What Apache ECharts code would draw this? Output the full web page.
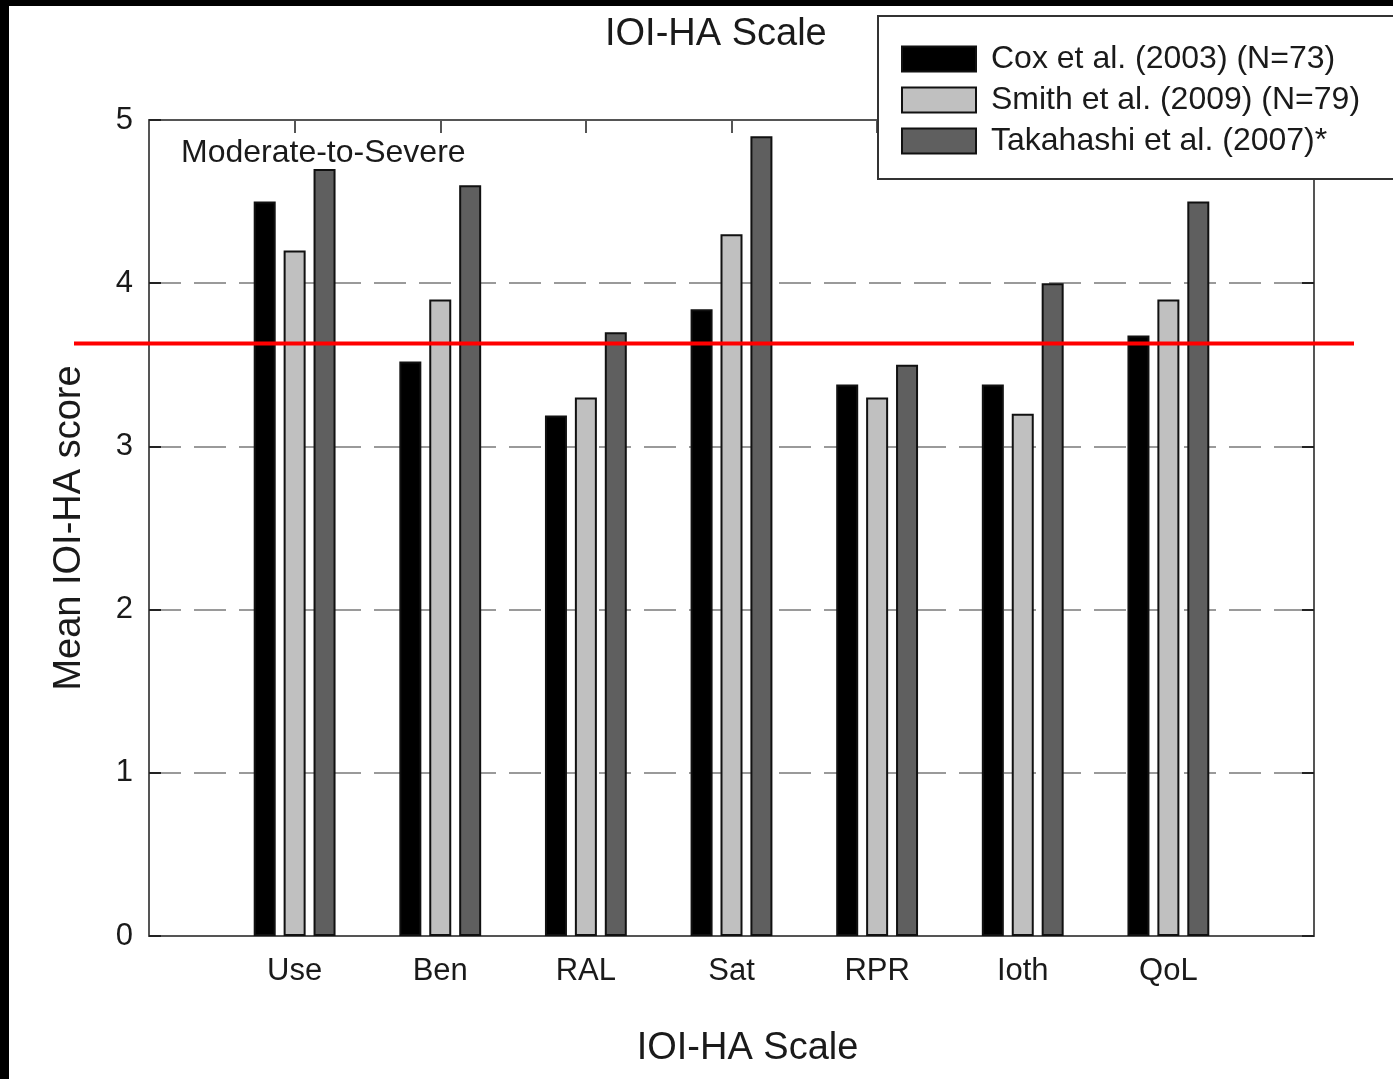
<!DOCTYPE html>
<html>
<head>
<meta charset="utf-8">
<script src="https://cdn.jsdelivr.net/npm/echarts@6/dist/echarts.min.js"></script>
<style>html,body{margin:0;padding:0;background:#fff;}#c{width:1393px;height:1079px;}</style>
</head>
<body>
<div id="c"></div>
<script>
var categories = ['Use', 'Ben', 'RAL', 'Sat', 'RPR', 'Ioth', 'QoL'];
var categoryPositions = [1, 2, 3, 4, 5, 6, 7];
var seriesNames = ['Cox et al. (2003) (N=73)', 'Smith et al. (2009) (N=79)', 'Takahashi et al. (2007)*'];
var coxValues = [4.50, 3.52, 3.19, 3.84, 3.38, 3.38, 3.68];
var smithValues = [4.20, 3.90, 3.30, 4.30, 3.30, 3.20, 3.90];
var takahashiValues = [4.70, 4.60, 3.70, 4.90, 3.50, 4.00, 4.50];
var yTicks = [0, 1, 2, 3, 4, 5];
var referenceValue = 3.63;

var FONT = 'Liberation Sans, Arial, sans-serif';
var colors = ['#000000', '#c0c0c0', '#5f5f5f'];

function pairs(vals) {
  return vals.map(function (v, i) { return [categoryPositions[i], v]; });
}

var chart = echarts.init(document.getElementById('c'), null, {renderer: 'canvas'});
var frameLine = {show: true, onZero: false, lineStyle: {color: '#555', width: 2}};

var option = {
  backgroundColor: '#ffffff',
  animation: false,
  textStyle: {fontFamily: FONT},
  title: [
    {text: 'IOI-HA Scale', left: 605, top: 16, padding: 0,
     textStyle: {fontFamily: FONT, fontSize: 38, fontWeight: 'normal', color: '#1a1a1a'}},
    {text: 'Moderate-to-Severe', left: 181, top: 137, padding: 0,
     textStyle: {fontFamily: FONT, fontSize: 32, fontWeight: 'normal', color: '#1a1a1a'}}
  ],
  legend: {
    left: 878, top: 16, orient: 'vertical',
    padding: [27, 60, 22, 23],
    itemWidth: 74, itemHeight: 25, itemGap: 9,
    backgroundColor: '#ffffff', borderColor: '#333', borderWidth: 2,
    icon: 'rect',
    textStyle: {fontFamily: FONT, fontSize: 32, color: '#1a1a1a', padding: [0, 0, 0, 10]},
    data: seriesNames
  },
  grid: {left: 149, right: 79, top: 120, bottom: 143, containLabel: false},
  xAxis: [
    {type: 'value', min: 0, max: 8, position: 'bottom',
     axisLine: frameLine,
     axisTick: {show: true, inside: true, length: 13, customValues: categoryPositions, lineStyle: {color: '#555', width: 2}},
     axisLabel: {show: true, customValues: categoryPositions, margin: 20,
       fontFamily: FONT, fontSize: 31, color: '#1a1a1a',
       formatter: function (v) { var i = categoryPositions.indexOf(v); return i >= 0 ? categories[i] : ''; }},
     splitLine: {show: false},
     name: 'IOI-HA Scale', nameLocation: 'middle', nameGap: 94,
     nameTextStyle: {fontFamily: FONT, fontSize: 38, color: '#1a1a1a', padding: [0, 0, 0, 32]}},
    {type: 'value', min: 0, max: 8, position: 'top',
     axisLine: frameLine,
     axisTick: {show: true, inside: true, length: 13, customValues: categoryPositions, lineStyle: {color: '#555', width: 2}},
     axisLabel: {show: false}, splitLine: {show: false}}
  ],
  yAxis: [
    {type: 'value', min: 0, max: 5, interval: 1, position: 'left',
     axisLine: frameLine,
     axisTick: {show: true, inside: true, length: 12, lineStyle: {color: '#222', width: 2}},
     axisLabel: {margin: 16, fontFamily: FONT, fontSize: 31, color: '#1a1a1a',
       formatter: function (v) { return yTicks.indexOf(v) >= 0 ? String(v) : ''; }},
     splitLine: {show: true, lineStyle: {color: '#9a9a9a', width: 2, type: [32, 13]}},
     name: 'Mean IOI-HA score', nameLocation: 'middle', nameRotate: 90, nameGap: 60,
     nameTextStyle: {fontFamily: FONT, fontSize: 38, color: '#1a1a1a'}},
    {type: 'value', min: 0, max: 5, interval: 1, position: 'right',
     axisLine: frameLine,
     axisTick: {show: true, inside: true, length: 12, lineStyle: {color: '#222', width: 2}},
     axisLabel: {show: false}, splitLine: {show: false}}
  ],
  series: [
    {name: seriesNames[0], type: 'bar', xAxisIndex: 0, yAxisIndex: 0, data: pairs(coxValues),
     barWidth: 22, barGap: '36%', itemStyle: {color: colors[0], borderColor: '#111', borderWidth: 2}},
    {name: seriesNames[1], type: 'bar', xAxisIndex: 0, yAxisIndex: 0, data: pairs(smithValues),
     barWidth: 22, barGap: '36%', itemStyle: {color: colors[1], borderColor: '#111', borderWidth: 2}},
    {name: seriesNames[2], type: 'bar', xAxisIndex: 0, yAxisIndex: 0, data: pairs(takahashiValues),
     barWidth: 22, barGap: '36%', itemStyle: {color: colors[2], borderColor: '#111', borderWidth: 2}}
  ]
};
chart.setOption(option);

var refY = chart.convertToPixel({yAxisIndex: 0}, referenceValue);
chart.setOption({
  graphic: [
    {type: 'line', z: 100, shape: {x1: 74, y1: refY, x2: 1354, y2: refY},
     style: {stroke: '#ff0000', lineWidth: 4}},
    {type: 'rect', z: 100, shape: {x: 0, y: 0, width: 1393, height: 6}, style: {fill: '#000'}},
    {type: 'rect', z: 100, shape: {x: 0, y: 0, width: 9, height: 1079}, style: {fill: '#000'}}
  ]
});
</script>
</body>
</html>
